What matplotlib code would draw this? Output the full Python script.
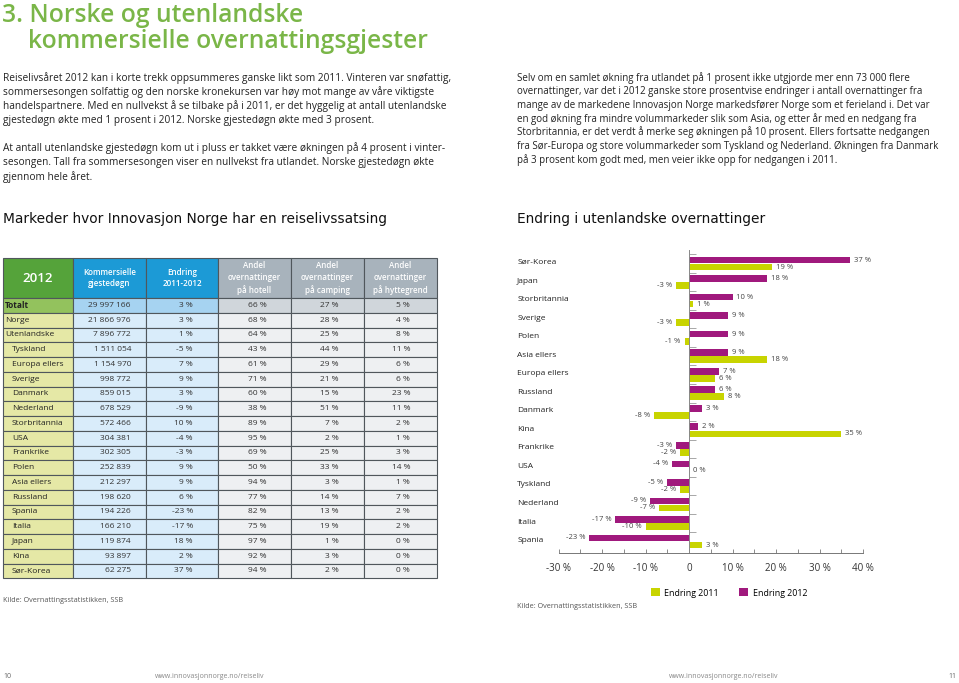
import matplotlib.pyplot as plt
from matplotlib.patches import Rectangle

plt.rcParams['font.family'] = ['Open Sans', 'DejaVu Sans']

# --- data: endring i utenlandske overnattinger (prosent) ---
land = ["Sør-Korea", "Japan", "Storbritannia", "Sverige", "Polen", "Asia ellers",
        "Europa ellers", "Russland", "Danmark", "Kina", "Frankrike", "USA",
        "Tyskland", "Nederland", "Italia", "Spania"]
endring_2012 = [37, 18, 10, 9, 9, 9, 7, 6, 3, 2, -3, -4, -5, -9, -17, -23]
endring_2011 = [19, -3, 1, -3, -1, 18, 6, 8, -8, 35, -2, 0, -2, -7, -10, 3]
x_ticks = [-30, -20, -10, 0, 10, 20, 30, 40]

# --- data: tabell over markeder ---
rader = ["Totalt", "Norge", "Utenlandske", "Tyskland", "Europa ellers", "Sverige",
         "Danmark", "Nederland", "Storbritannia", "USA", "Frankrike", "Polen",
         "Asia ellers", "Russland", "Spania", "Italia", "Japan", "Kina", "Sør-Korea"]
gjestedogn = [29997166, 21866976, 7896772, 1511054, 1154970, 998772, 859015, 678529,
              572466, 304381, 302305, 252839, 212297, 198620, 194226, 166210,
              119874, 93897, 62275]
endring = [3, 3, 1, -5, 7, 9, 3, -9, 10, -4, -3, 9, 9, 6, -23, -17, 18, 2, 37]
hotell = [66, 68, 64, 43, 61, 71, 60, 38, 89, 95, 69, 50, 94, 77, 82, 75, 97, 92, 94]
camping = [27, 28, 25, 44, 29, 21, 15, 51, 7, 2, 25, 33, 3, 14, 13, 19, 1, 3, 2]
hytte = [5, 4, 8, 11, 6, 6, 23, 11, 2, 1, 3, 14, 1, 7, 2, 2, 0, 0, 0]
kolonner = ["2012", "Kommersielle\ngjestedøgn", "Endring\n2011-2012",
            "Andel\novernattinger\npå hotell", "Andel\novernattinger\npå camping",
            "Andel\novernattinger\npå hyttegrend"]

MAGENTA = '#a0197d'
GUL = '#c8d400'
GRONN = '#7ab648'
TXT = '#333333'

W, H = 959, 683
fig = plt.figure(figsize=(W / 100, H / 100), dpi=100)

# side-akse i pikselkoordinater for tekst og tabell
page = fig.add_axes([0, 0, 1, 1])
page.set_xlim(0, W)
page.set_ylim(H, 0)
page.axis('off')

# tittel
page.text(2, 15, "3. Norske og utenlandske", color=GRONN, fontsize=17.7,
          weight='semibold', va='center')
page.text(28, 42, "kommersielle overnattingsgjester", color=GRONN, fontsize=17.7,
          weight='semibold', va='center')

venstre = [
    "Reiselivsåret 2012 kan i korte trekk oppsummeres ganske likt som 2011. Vinteren var snøfattig,",
    "sommersesongen solfattig og den norske kronekursen var høy mot mange av våre viktigste",
    "handelspartnere. Med en nullvekst å se tilbake på i 2011, er det hyggelig at antall utenlandske",
    "gjestedøgn økte med 1 prosent i 2012. Norske gjestedøgn økte med 3 prosent.",
    "",
    "At antall utenlandske gjestedøgn kom ut i pluss er takket være økningen på 4 prosent i vinter-",
    "sesongen. Tall fra sommersesongen viser en nullvekst fra utlandet. Norske gjestedøgn økte",
    "gjennom hele året.",
]
for i, linje in enumerate(venstre):
    page.text(3, 78 + i * 14.1, linje, fontsize=7.3, color='#222222', va='center')

hoyre = [
    "Selv om en samlet økning fra utlandet på 1 prosent ikke utgjorde mer enn 73 000 flere",
    "overnattinger, var det i 2012 ganske store prosentvise endringer i antall overnattinger fra",
    "mange av de markedene Innovasjon Norge markedsfører Norge som et ferieland i. Det var",
    "en god økning fra mindre volummarkeder slik som Asia, og etter år med en nedgang fra",
    "Storbritannia, er det verdt å merke seg økningen på 10 prosent. Ellers fortsatte nedgangen",
    "fra Sør-Europa og store volummarkeder som Tyskland og Nederland. Økningen fra Danmark",
    "på 3 prosent kom godt med, men veier ikke opp for nedgangen i 2011.",
]
for i, linje in enumerate(hoyre):
    page.text(517, 78 + i * 13.6, linje, fontsize=7.0, color='#222222', va='center')

# seksjonsoverskrifter
page.text(3, 219, "Markeder hvor Innovasjon Norge har en reiselivssatsing",
          fontsize=9.9, color='#111111', va='center',
          family=['Liberation Sans Narrow', 'DejaVu Sans'])
page.text(517, 219, "Endring i utenlandske overnattinger",
          fontsize=9.9, color='#111111', va='center',
          family=['Liberation Sans Narrow', 'DejaVu Sans'])

# --- tabell ---
kant = [3, 73, 146, 218, 291, 364, 437]
topp, hode_bunn, rad_h = 258, 298, 14.75
hode_farger = ['#55a33a', '#1c9ad6', '#1c9ad6', '#a8b3bc', '#a8b3bc', '#a8b3bc']
total_farger = ['#93c25d', '#a6d3f1', '#a6d3f1', '#d0d6db', '#d0d6db', '#d0d6db']
rad_farger = ['#e5e8a6', '#d9ecfa', '#d9ecfa', '#eef0f2', '#eef0f2', '#eef0f2']
LINJE = '#50575c'

for c in range(6):
    page.add_patch(Rectangle((kant[c], topp), kant[c + 1] - kant[c], hode_bunn - topp,
                             facecolor=hode_farger[c], edgecolor=LINJE, lw=0.8))
    cx = (kant[c] + kant[c + 1]) / 2
    if c == 0:
        page.text(cx, (topp + hode_bunn) / 2 + 1, kolonner[c], color='white',
                  fontsize=9.5, weight='semibold', ha='center', va='center')
    else:
        page.text(cx, (topp + hode_bunn) / 2, kolonner[c], color='white',
                  fontsize=5.8, weight='semibold', ha='center', va='center',
                  linespacing=1.35)

hoyre_x = [None, 131, 193, 267, 339, 410]
for r, navn in enumerate(rader):
    y0 = hode_bunn + r * rad_h
    farger = total_farger if r == 0 else rad_farger
    for c in range(6):
        page.add_patch(Rectangle((kant[c], y0), kant[c + 1] - kant[c], rad_h,
                                 facecolor=farger[c], edgecolor=LINJE, lw=0.8))
    yc = y0 + rad_h / 2
    vekt = 'bold' if r == 0 else 'normal'
    page.text(5 if r < 3 else 12, yc, navn, fontsize=6, color='#222222',
              va='center', weight=vekt)
    verdier = [f"{gjestedogn[r]:,}".replace(",", " "), f"{endring[r]} %",
               f"{hotell[r]} %", f"{camping[r]} %", f"{hytte[r]} %"]
    for c, v in enumerate(verdier, start=1):
        page.text(hoyre_x[c], yc, v, fontsize=6, color=TXT, ha='right', va='center')

page.text(3, 600, "Kilde: Overnattingsstatistikken, SSB", fontsize=5.2, color='#555555',
          va='center')
page.text(517, 607, "Kilde: Overnattingsstatistikken, SSB", fontsize=5.2, color='#555555',
          va='center')

# bunntekst
page.text(3, 677, "10", fontsize=5, color='#666666', va='center')
page.text(210, 677, "www.innovasjonnorge.no/reiseliv", fontsize=5, color='#888888',
          va='center', ha='center')
page.text(724, 677, "www.innovasjonnorge.no/reiseliv", fontsize=5, color='#888888',
          va='center', ha='center')
page.text(956, 677, "11", fontsize=5, color='#666666', va='center', ha='right')

# --- stolpediagram ---
ax = fig.add_axes([558.5 / W, 130 / H, (863 - 558.5) / W, 303 / H])
pos = list(range(len(land) - 1, -1, -1))
bh = 0.36
pos_12 = [p + 0.19 for p in pos]
pos_11 = [p - 0.19 for p in pos]
b12 = ax.barh(pos_12, endring_2012, height=bh, color=MAGENTA, label="Endring 2012")
b11 = ax.barh(pos_11, endring_2011, height=bh, color=GUL, label="Endring 2011")

ax.set_xlim(-30, 40)
ax.set_ylim(-0.62, len(land) - 0.27)

for ys, vals in ((pos_12, endring_2012), (pos_11, endring_2011)):
    for y, v in zip(ys, vals):
        if v < 0:
            ax.text(v - 0.9, y, f"{v} %", fontsize=5.5, color='#444444',
                    ha='right', va='center')
        else:
            ax.text(v + 0.9, y, f"{v} %", fontsize=5.5, color='#444444',
                    ha='left', va='center')

for p, navn in zip(pos, land):
    ax.text(-0.136, p + 0.05, navn, transform=ax.get_yaxis_transform(),
            fontsize=6, color='#222222', va='center', ha='left')

for s in ('top', 'right'):
    ax.spines[s].set_visible(False)
ax.spines['left'].set_position(('data', 0))
ax.spines['left'].set_color('#888888')
ax.spines['bottom'].set_color('#777777')
ax.spines['left'].set_linewidth(0.7)
ax.spines['bottom'].set_linewidth(0.7)
ax.set_yticks([p + 0.5 for p in pos])
ax.set_yticklabels([])
ax.tick_params(axis='y', direction='in', length=5, color='#999999', width=0.6)
ax.set_xticks(x_ticks)
ax.set_xticklabels([("0" if t == 0 else f"{t} %") for t in x_ticks])
ax.set_xticks(range(-30, 41, 5), minor=True)
ax.tick_params(axis='x', which='both', direction='in', length=3, color='#777777',
               width=0.6, labelsize=7, labelcolor='#333333', pad=7)
ax.patch.set_alpha(0)

fig.legend(handles=[b11, b12], loc='center', bbox_to_anchor=(729 / W, 1 - 593 / H),
           ncol=2, frameon=False, fontsize=6.4, handlelength=1.0, handleheight=1.0,
           handletextpad=0.5, columnspacing=2.3)

fig.savefig("out.png", dpi=100)
